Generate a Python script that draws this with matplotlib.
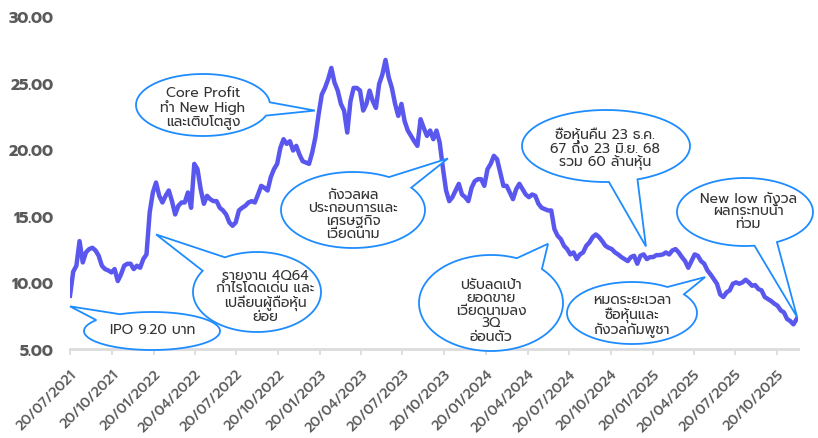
import matplotlib
matplotlib.use("Agg")
import matplotlib.pyplot as plt
import matplotlib.dates as mdates
from matplotlib.patches import Polygon
import numpy as np
import pandas as pd

# weekly closing price (start 20/07/2021)
prices = [
    9.0, 10.8, 11.25, 13.1, 11.5, 12.25, 12.5, 12.6, 12.4, 12.0,
    11.25, 11.0, 10.9, 10.75, 11.0, 10.1, 10.6, 11.25, 11.4, 11.4,
    11.0, 11.25, 11.1, 11.75, 12.1, 15.25, 16.75, 17.5, 16.5, 16.0,
    16.5, 16.9, 16.1, 15.1, 15.75, 16.0, 16.0, 16.75, 15.6, 18.9,
    18.5, 17.0, 15.9, 16.5, 16.25, 16.1,
    16.1, 15.6, 15.4, 15.1, 14.5, 14.25, 14.5, 15.4, 15.6, 15.75,
    16.0, 16.1, 16.0, 16.6, 17.25, 17.1, 16.9, 17.9, 18.5, 18.9,
    20.1, 20.75, 20.4, 20.6, 19.9, 20.25, 19.6, 19.1, 19.0, 18.9,
    19.75, 20.9, 22.6, 24.1, 24.6, 25.25, 26.1, 25.0, 24.4, 23.4,
    22.9, 21.25, 23.6, 24.6, 24.6,
    24.4, 22.9, 23.4, 24.4, 23.6, 23.1, 24.9, 25.6, 26.7, 25.4,
    24.6, 23.4, 22.5, 23.4, 22.1, 21.4, 21.0, 20.6, 20.25, 22.25,
    21.6, 21.0, 21.4, 20.75, 21.4, 20.5, 18.6, 16.9, 16.1, 16.4,
    16.9, 17.4, 16.6, 16.4, 16.1, 17.1, 17.6, 17.75, 17.75, 17.25,
    18.5, 18.9, 19.5, 19.25, 18.25,
    17.25, 17.25, 16.75, 16.25, 17.0, 17.4, 17.0, 16.6, 16.4, 16.6,
    16.5, 15.9, 15.6, 15.5, 15.4, 15.4, 14.0, 13.5, 13.25, 12.75,
    12.5, 12.1, 12.25, 11.75, 12.1, 12.25, 12.75, 13.0, 13.4, 13.6,
    13.4, 13.1, 12.75, 12.6, 12.5, 12.25, 12.1, 11.9, 11.75, 11.6,
    11.9, 12.0, 11.4, 12.0, 12.1,
    11.75, 11.9, 11.9, 12.05, 12.05, 12.1, 12.25, 12.1, 12.4, 12.5,
    12.25, 11.9, 11.6, 11.1, 11.6, 12.1, 12.0, 11.6, 11.4, 10.9,
    10.6, 10.25, 9.9, 9.1, 8.9, 9.25, 9.4, 9.9, 10.0, 9.9,
    10.0, 10.2, 10.0, 9.75, 9.8, 9.5, 9.4, 8.9, 8.75, 8.6,
    8.4, 8.25, 7.9, 7.75, 7.25, 7.1, 6.85, 7.25,
]
dates = pd.date_range("2021-07-20", periods=len(prices), freq="7D")

tick_dates = pd.date_range("2021-07-20", "2025-10-20", freq=pd.DateOffset(months=3))
y_ticks = [5, 10, 15, 20, 25, 30]

# callouts: text, and the (date, price) the tail points to
notes = [
    "Core Profit\nทำ New High\nและเติบโตสูง",
    "IPO 9.20 บาท",
    "รายงาน 4Q64\nกำไรโดดเด่น และ\nเปลี่ยนผู้ถือหุ้น\nย่อย",
    "กังวลผล\nประกอบการและ\nเศรษฐกิจ\nเวียดนาม",
    "ปรับลดเป้า\nยอดขาย\nเวียดนามลง\n3Q\nอ่อนตัว",
    "ซื้อหุ้นคืน 23 ธ.ค.\n67 ถึง 23 มิ.ย. 68\nรวม 60 ล้านหุ้น",
    "New low กังวล\nผลกระทบน้ำ\nท่วม",
    "หมดระยะเวลา\nซื้อหุ้นและ\nกังวลกัมพูชา",
]
note_dates = ["2023-01-09", "2021-07-20", "2022-01-25", "2023-10-28",
              "2024-06-04", "2025-01-05", "2025-12-03", "2025-05-15"]
note_prices = [22.9, 8.2, 13.6, 19.3, 12.9, 12.7, 7.4, 10.4]

# bubble layout in pixels (x right, y down): ellipse centre, half axes,
# tail base angles, text centre
bubble_layout = [
    (203, 106, 67, 31, -5, 20, 203, 108),
    (152, 332, 68, 19, -145, -118, 153, 331),
    (257, 293, 64, 40, -148, -120, 265, 297),
    (353, 211, 72, 38, -60, -36, 353, 215),
    (491, 304, 72, 48, -69, -45, 491, 311),
    (606, 147, 84, 36, 68, 88, 605, 149),
    (745, 213, 68, 34, 62, 82, 748, 212),
    (632, 314, 65, 31, -57, -37, 632, 316),
]

plt.rcParams["font.family"] = ["Prompt", "DejaVu Sans"]

fig = plt.figure(figsize=(8.18, 4.39), dpi=100)
ax = fig.add_axes([70 / 818, 89 / 439, 728 / 818, 333 / 439])
ax.plot(dates, prices, color="#5a57ee", lw=3.2, solid_joinstyle="round", zorder=2)

ax.set_ylim(5, 30)
ax.set_xlim(pd.Timestamp("2021-07-20"), pd.Timestamp("2025-12-05"))
ax.set_yticks(y_ticks)
ax.set_yticklabels([f"{v:.2f}" for v in y_ticks], fontsize=11.5, fontweight="bold", color="#5a5a5a")
ax.set_xticks(tick_dates)
ax.set_xticklabels([d.strftime("%d/%m/%Y") for d in tick_dates], rotation=45,
                   ha="right", va="top", rotation_mode="anchor",
                   fontsize=10, fontweight="medium", color="#5a5a5a")
ax.tick_params(axis="x", length=4.5, width=1.2, color="#d9d9d9", pad=8.5)
ax.tick_params(axis="y", length=0, pad=12)
for s in ["top", "right", "left"]:
    ax.spines[s].set_visible(False)
ax.spines["bottom"].set_color("#dcdcdc")
ax.spines["bottom"].set_linewidth(2)

# overlay in pixel units for the speech bubbles
ov = fig.add_axes([0, 0, 1, 1])
ov.set_xlim(0, 818)
ov.set_ylim(439, 0)
ov.axis("off")

for txt, d, p, lay in zip(notes, note_dates, note_prices, bubble_layout):
    cx, cy, a, b, t1, t2, tx, ty = lay
    tip = ov.transData.inverted().transform(
        ax.transData.transform((mdates.date2num(pd.Timestamp(d)), p)))
    ts = np.radians(np.linspace(t2, t1 + 360, 160))
    pts = np.column_stack([cx + a * np.cos(ts), cy + b * np.sin(ts)])
    pts = np.vstack([pts, tip])
    ov.add_patch(Polygon(pts, closed=True, fc="white", ec="#1e8cff", lw=1.3, zorder=3))
    ov.text(tx, ty, txt, ha="center", va="center", fontsize=10, fontweight="normal",
            color="#333333", linespacing=1.0, zorder=4)

fig.savefig("out.png", dpi=100)
